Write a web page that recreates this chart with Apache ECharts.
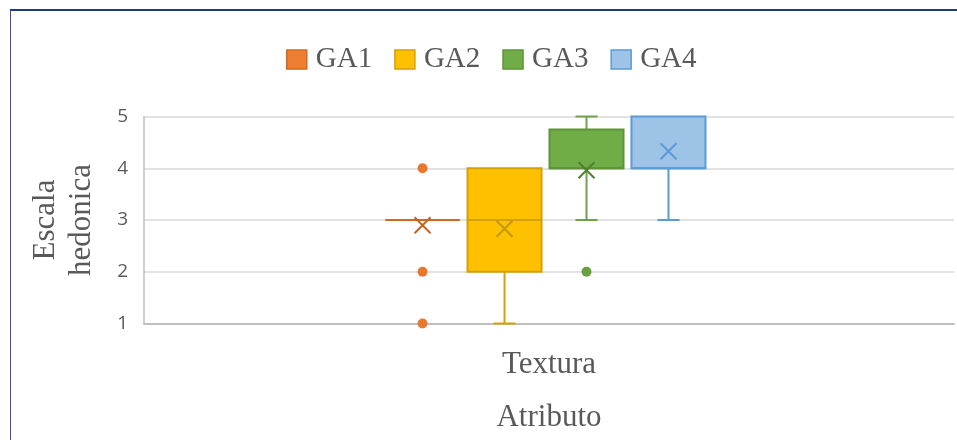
<!DOCTYPE html>
<html>
<head>
<meta charset="utf-8">
<script src="https://cdn.jsdelivr.net/npm/echarts@6/dist/echarts.min.js"></script>
<style>
  html, body { margin: 0; padding: 0; background: #ffffff; }
  #chart { width: 957px; height: 440px; }
</style>
</head>
<body>
<div id="chart"></div>
<script>
// Attribute on the category axis
const categories = ['Textura'];
// Panel groups
const groupNames = ['GA1', 'GA2', 'GA3', 'GA4'];
// Box summaries per group: [lower whisker, Q1, median, Q3, upper whisker]
const ga1Box = [3, 3, 3, 3, 3];
const ga2Box = [1, 2, 3, 4, 4];
const ga3Box = [3, 4, 4, 4.75, 5];
const ga4Box = [3, 4, 4, 5, 5];
// Group means (drawn as X markers)
const meanValues = [2.9, 2.83, 3.96, 4.33];
// Outlying scores per group
const ga1Outliers = [4, 2, 1];
const ga2Outliers = [];
const ga3Outliers = [2];
const ga4Outliers = [];
// Hedonic scale ticks
const yTicks = [1, 2, 3, 4, 5];

const boxes = [ga1Box, ga2Box, ga3Box, ga4Box];
const outlierLists = [ga1Outliers, ga2Outliers, ga3Outliers, ga4Outliers];

const palette = [
  { fill: '#ED7D31', border: '#D2691F', whisker: '#D2691F', mean: '#C9601D', dot: '#E8782E' },
  { fill: '#FFC000', border: '#D4A106', whisker: '#D4A106', mean: '#C49A12', dot: '#FFC000' },
  { fill: '#70AD47', border: '#5E9439', whisker: '#6FA34A', mean: '#4F7F31', dot: '#66A03F' },
  { fill: '#9DC3E6', border: '#5B9BD5', whisker: '#5B9BD5', mean: '#5B9BD5', dot: '#5B9BD5' }
];

function makeRenderer(idx) {
  const pal = palette[idx];
  const outliers = outlierLists[idx];
  return function (params, api) {
    const cat = api.value(0);
    const band = api.size([1, 0])[0];
    const step = band * 0.1012;
    const bw = band * 0.0914;
    const cx = api.coord([cat, 1])[0] + (idx - 1.5) * step - band * 0.0043;
    const y = v => api.coord([cat, v])[1];
    const lo = api.value(1), q1 = api.value(2), med = api.value(3),
          q3 = api.value(4), hi = api.value(5), mean = api.value(6);
    const capHalf = 11;
    const children = [];
    const lineStyle = c => ({ stroke: c, lineWidth: 2, fill: null });

    if (lo < q1) {
      children.push({ type: 'line', shape: { x1: cx, y1: y(lo), x2: cx, y2: y(q1) }, style: lineStyle(pal.whisker) });
      children.push({ type: 'line', shape: { x1: cx - capHalf, y1: y(lo), x2: cx + capHalf, y2: y(lo) }, style: lineStyle(pal.whisker) });
    }
    if (hi > q3) {
      children.push({ type: 'line', shape: { x1: cx, y1: y(hi), x2: cx, y2: y(q3) }, style: lineStyle(pal.whisker) });
      children.push({ type: 'line', shape: { x1: cx - capHalf, y1: y(hi), x2: cx + capHalf, y2: y(hi) }, style: lineStyle(pal.whisker) });
    }
    children.push({
      type: 'rect',
      shape: { x: cx - bw / 2, y: y(q3), width: bw, height: y(q1) - y(q3) },
      style: { fill: pal.fill, stroke: pal.border, lineWidth: 2 }
    });
    children.push({ type: 'line', shape: { x1: cx - bw / 2, y1: y(med), x2: cx + bw / 2, y2: y(med) }, style: lineStyle(pal.border) });

    const my = y(mean), r = 8;
    children.push({ type: 'line', shape: { x1: cx - r, y1: my - r, x2: cx + r, y2: my + r }, style: lineStyle(pal.mean) });
    children.push({ type: 'line', shape: { x1: cx - r, y1: my + r, x2: cx + r, y2: my - r }, style: lineStyle(pal.mean) });

    outliers.forEach(v => {
      children.push({ type: 'circle', shape: { cx: cx, cy: y(v), r: 5 }, style: { fill: pal.dot, stroke: null } });
    });
    return { type: 'group', children: children };
  };
}

const series = groupNames.map((name, i) => ({
  name: name,
  type: 'custom',
  renderItem: makeRenderer(i),
  encode: { x: 0, y: [1, 2, 3, 4, 5, 6] },
  itemStyle: { color: palette[i].fill, borderColor: palette[i].border, borderWidth: 1.5 },
  data: categories.map((c, ci) => [ci].concat(boxes[i], [meanValues[i]])),
  z: 3
}));

const serif = 'Liberation Serif, Times New Roman, serif';

const chart = echarts.init(document.getElementById('chart'), null, { renderer: 'canvas' });
chart.setOption({
  animation: false,
  backgroundColor: '#ffffff',
  legend: {
    left: 281,
    top: 40,
    itemWidth: 20,
    itemHeight: 19,
    itemGap: 22,
    data: groupNames.map((n, i) => ({
      name: n,
      icon: 'rect',
      itemStyle: { color: palette[i].fill, borderColor: palette[i].border, borderWidth: 1.5 }
    })),
    textStyle: { fontFamily: serif, fontSize: 29, color: '#595959', padding: [0, 0, 0, 4] }
  },
  grid: { left: 144, right: 3, top: 116.5, bottom: 116.5, containLabel: false },
  xAxis: {
    type: 'category',
    data: categories,
    axisLine: { show: true, lineStyle: { color: '#BFBFBF', width: 2 } },
    axisTick: { show: false },
    axisLabel: { fontFamily: serif, fontSize: 31, color: '#595959', margin: 26 },
    name: 'Atributo',
    nameLocation: 'middle',
    nameGap: 79,
    nameTextStyle: { fontFamily: serif, fontSize: 31, color: '#595959' }
  },
  yAxis: {
    type: 'value',
    min: yTicks[0],
    max: yTicks[yTicks.length - 1],
    interval: 1,
    axisLine: { show: true, lineStyle: { color: '#BFBFBF', width: 1.5 } },
    axisTick: { show: false },
    splitLine: { show: true, lineStyle: { color: '#D9D9D9', width: 1.5 } },
    axisLabel: { fontFamily: 'Open Sans', fontSize: 19, color: '#595959', margin: 16 },
    name: 'Escala\nhedonica',
    nameLocation: 'middle',
    nameGap: 44,
    nameTextStyle: { fontFamily: serif, fontSize: 31, color: '#595959', lineHeight: 36 }
  },
  graphic: [
    { type: 'line', shape: { x1: 10, y1: 10, x2: 957, y2: 10 }, style: { stroke: '#1F3B78', lineWidth: 2 }, silent: true },
    { type: 'line', shape: { x1: 10.5, y1: 10, x2: 10.5, y2: 440 }, style: { stroke: '#3C5098', lineWidth: 1 }, silent: true }
  ],
  series: series
});
</script>
</body>
</html>
